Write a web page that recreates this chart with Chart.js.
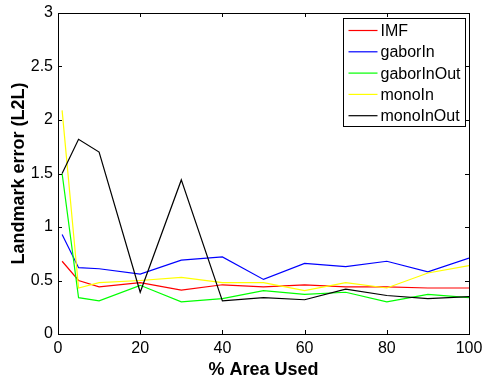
<!DOCTYPE html>
<html>
<head>
<meta charset="utf-8">
<script src="https://cdn.jsdelivr.net/npm/chart.js@4/dist/chart.umd.min.js"></script>
<style>
  body { margin: 0; background: #fff; }
  #chart_container { display: block; }
</style>
</head>
<body>
<canvas id="chart_container" width="482" height="383"></canvas>
<script>
// % of area used on the x axis
var area_used = [1, 5, 10, 20, 30, 40, 50, 60, 70, 80, 90, 100];

// landmark error (L2L) per method
var imf_err = [0.68, 0.50, 0.44, 0.48, 0.41, 0.46, 0.44, 0.46, 0.44, 0.44, 0.43, 0.43];
var gabor_in_err = [0.93, 0.62, 0.61, 0.56, 0.69, 0.72, 0.51, 0.66, 0.63, 0.68, 0.58, 0.71];
var gabor_inout_err = [1.50, 0.34, 0.31, 0.455, 0.30, 0.33, 0.405, 0.37, 0.39, 0.30, 0.37, 0.34];
var mono_in_err = [2.09, 0.43, 0.48, 0.50, 0.53, 0.48, 0.48, 0.405, 0.48, 0.43, 0.57, 0.64];
var mono_inout_err = [1.50, 1.82, 1.70, 0.39, 1.44, 0.31, 0.34, 0.32, 0.42, 0.36, 0.33, 0.35];

var series_names = ["IMF", "gaborIn", "gaborInOut", "monoIn", "monoInOut"];
var series_colors = ["#ff0000", "#0000ff", "#00ff00", "#ffff00", "#000000"];
var series_values = [imf_err, gabor_in_err, gabor_inout_err, mono_in_err, mono_inout_err];

var x_ticks = [0, 20, 40, 60, 80, 100];
var y_ticks = [0, 0.5, 1, 1.5, 2, 2.5, 3];

var font_family = "'Liberation Sans', Arial, Helvetica, sans-serif";

function make_dataset(i) {
    var pts = [];
    for (var k = 0; k < area_used.length; k++) {
        pts.push({x: area_used[k], y: series_values[i][k]});
    }
    return {
        label: series_names[i],
        data: pts,
        borderColor: series_colors[i],
        backgroundColor: series_colors[i],
        borderWidth: 1.2,
        pointRadius: 0,
        tension: 0,
        fill: false,
        // later series sit on top, like the plot order
        order: series_names.length - 1 - i
    };
}

var datasets = [];
for (var i = 0; i < series_names.length; i++) {
    datasets.push(make_dataset(i));
}

// box around the axes with inward ticks on all four sides
var box_ticks = {
    id: "box_ticks",
    afterDatasetsDraw: function(chart) {
        var ctx = chart.ctx;
        var a = chart.chartArea;
        var xs = chart.scales.x;
        var ys = chart.scales.y;
        var len = 4;
        ctx.save();
        ctx.strokeStyle = "#000";
        ctx.lineWidth = 1;
        ctx.beginPath();
        for (var i = 0; i < x_ticks.length; i++) {
            var px = Math.round(xs.getPixelForValue(x_ticks[i])) + 0.5;
            ctx.moveTo(px, a.bottom);
            ctx.lineTo(px, a.bottom - len);
            ctx.moveTo(px, a.top);
            ctx.lineTo(px, a.top + len);
        }
        for (var j = 0; j < y_ticks.length; j++) {
            var py = Math.round(ys.getPixelForValue(y_ticks[j])) + 0.5;
            ctx.moveTo(a.left, py);
            ctx.lineTo(a.left + len, py);
            ctx.moveTo(a.right, py);
            ctx.lineTo(a.right - len, py);
        }
        ctx.stroke();
        ctx.strokeRect(Math.round(a.left) + 0.5, Math.round(a.top) + 0.5,
                       Math.round(a.right - a.left), Math.round(a.bottom - a.top));
        ctx.restore();
    }
};

// legend drawn in the upper right corner of the axes
var box_legend = {
    id: "box_legend",
    afterDraw: function(chart) {
        var ctx = chart.ctx;
        var a = chart.chartArea;
        var w = 122, row = 21.3;
        var h = 108;
        var left = Math.round(a.right - 4 - w) + 0.5;
        var top = Math.round(a.top + 5) + 0.5;
        ctx.save();
        ctx.fillStyle = "#fff";
        ctx.fillRect(left, top, w, h);
        ctx.strokeStyle = "#000";
        ctx.lineWidth = 1;
        ctx.strokeRect(left, top, w, h);
        ctx.font = "16px " + font_family;
        ctx.textBaseline = "middle";
        ctx.textAlign = "left";
        for (var i = 0; i < series_names.length; i++) {
            var cy = top + 12 + i * row;
            ctx.strokeStyle = series_colors[i];
            ctx.lineWidth = 1.2;
            ctx.beginPath();
            ctx.moveTo(left + 5, cy);
            ctx.lineTo(left + 34, cy);
            ctx.stroke();
            ctx.fillStyle = "#000";
            ctx.fillText(series_names[i], left + 37, cy + 1);
        }
        ctx.restore();
    }
};

function plain_label(value) {
    return String(value);
}

var ctx = document.getElementById("chart_container");
var myChart = new Chart(ctx, {
    type: "line",
    data: { datasets: datasets },
    options: {
        responsive: false,
        animation: false,
        devicePixelRatio: 1,
        layout: { padding: { left: 0, right: 13, top: 13, bottom: 0 } },
        plugins: {
            legend: { display: false },
            tooltip: { enabled: false }
        },
        scales: {
            x: {
                type: "linear",
                min: 0,
                max: 100,
                afterFit: function(scale) {
                    scale.height = 49;
                    scale.paddingLeft = 0;
                    scale.paddingRight = 0;
                },
                afterBuildTicks: function(scale) {
                    scale.ticks = x_ticks.map(function(v) { return {value: v}; });
                },
                grid: { display: false, drawTicks: false },
                border: { display: false },
                ticks: {
                    color: "#000",
                    padding: 5,
                    maxRotation: 0,
                    callback: plain_label,
                    font: { family: font_family, size: 16 }
                },
                title: {
                    display: true,
                    text: "% Area Used",
                    color: "#000",
                    padding: { top: 0, bottom: 2 },
                    font: { family: font_family, size: 18, weight: "bold" }
                }
            },
            y: {
                type: "linear",
                min: 0,
                max: 3,
                afterFit: function(scale) {
                    scale.width = 58;
                    scale.paddingTop = 0;
                    scale.paddingBottom = 0;
                },
                afterBuildTicks: function(scale) {
                    scale.ticks = y_ticks.map(function(v) { return {value: v}; });
                },
                grid: { display: false, drawTicks: false },
                border: { display: false },
                ticks: {
                    color: "#000",
                    padding: 5,
                    callback: plain_label,
                    font: { family: font_family, size: 16 }
                },
                title: {
                    display: true,
                    text: "Landmark error (L2L)",
                    color: "#000",
                    padding: { top: 8, bottom: 0 },
                    font: { family: font_family, size: 18, weight: "bold" }
                }
            }
        }
    },
    plugins: [box_ticks, box_legend]
});
</script>
</body>
</html>
